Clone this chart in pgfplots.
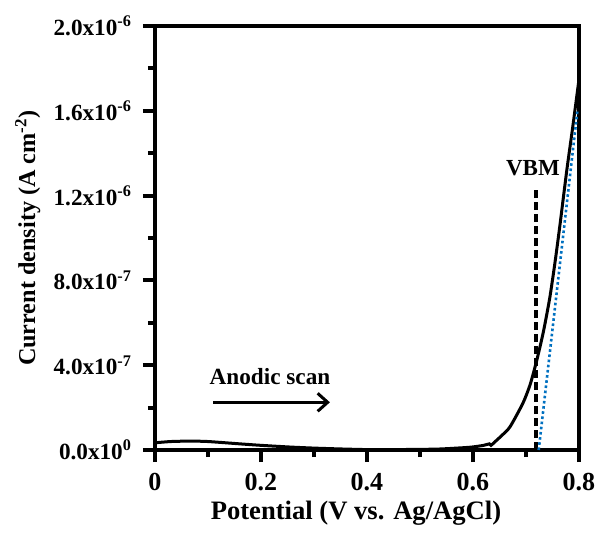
\documentclass[border=0pt]{standalone}
\usepackage{fontspec}
\setmainfont{Liberation Serif}
\usepackage{pgfplots}
\pgfplotsset{compat=1.18}
\usetikzlibrary{arrows.meta}
\definecolor{tanblue}{RGB}{0,112,192}
\begin{document}
\begin{tikzpicture}
\begin{axis}[
  name=ax,
  scale only axis, width=212pt, height=212pt,
  xmin=0, xmax=0.8, ymin=0, ymax=2e-6,
  axis line style={line width=2pt},
  xtick={0,0.2,0.4,0.6,0.8}, xticklabels={0,0.2,0.4,0.6,0.8},
  minor xtick={0.1,0.3,0.5,0.7},
  ytick={0,4e-7,8e-7,1.2e-6,1.6e-6,2e-6},
  yticklabels={0.0x10\textsuperscript{0},4.0x10\textsuperscript{-7},8.0x10\textsuperscript{-7},1.2x10\textsuperscript{-6},1.6x10\textsuperscript{-6},2.0x10\textsuperscript{-6}},
  minor ytick={2e-7,6e-7,1e-6,1.4e-6,1.8e-6},
  scaled y ticks=false, scaled x ticks=false,
  tick align=outside, xtick pos=lower, ytick pos=left,
  major tick length=6pt, minor tick length=3.5pt,
  every tick/.style={line width=2pt, black},
  xticklabel style={font=\bfseries\fontsize{13}{15}\selectfont, yshift=-2pt},
  yticklabel style={font=\bfseries\fontsize{11.6}{14}\selectfont, xshift=-2pt},
  xlabel={Potential (V vs. Ag/AgCl)},
  ylabel={Current density (A cm\textsuperscript{-2})},
  xlabel style={font=\bfseries\fontsize{13.3}{15}\selectfont, at={(axis description cs:0.474,-0.149)}, anchor=center},
  ylabel style={font=\bfseries\fontsize{12.1}{15}\selectfont, at={(axis description cs:-0.30,0.5)}, anchor=center},
  clip=false,
]
\addplot[black, line width=1.5pt, smooth, tension=0.4] coordinates {
(0,3.4e-8) (0.03,4.0e-8) (0.066,4.2e-8) (0.1,4.0e-8) (0.16,2.9e-8) (0.2,2.2e-8)
(0.255,1.4e-8) (0.3,9e-9) (0.35,5e-9) (0.4,2e-9) (0.45,2e-9) (0.5,3e-9)
(0.54,5e-9) (0.594,1.3e-8) (0.62,2.2e-8) (0.631,2.9e-8) (0.634,2.2e-8)
(0.642,4.0e-8) (0.655,7e-8) (0.67,1.1e-7) (0.694,2.2e-7) (0.708,3.1e-7)
(0.721,4.3e-7) (0.733,5.6e-7) (0.745,7.2e-7) (0.755,8.9e-7) (0.764,1.06e-6)
(0.777,1.32e-6) (0.788,1.52e-6) (0.799,1.73e-6)
};
\addplot[black, line width=2pt, dash pattern=on 4pt off 2pt] coordinates {(0.719,0) (0.719,1.24e-6)};
\addplot[tanblue, line width=1.3pt, dash pattern=on 1.3pt off 1.3pt] coordinates {(0.724,0) (0.797,1.6e-6)};
\node[font=\bfseries\fontsize{11.5}{14}\selectfont] at (axis cs:0.713,1.33e-6) {VBM};
\node[font=\bfseries\fontsize{11.6}{14}\selectfont] at (axis cs:0.217,3.45e-7) {Anodic scan};
\draw[-{Straight Barb[length=5pt,width=9pt]}, line width=1.5pt] (axis cs:0.11,2.25e-7) -- (axis cs:0.33,2.25e-7);
\end{axis}
\pgfresetboundingbox
\path ([shift={(-77.5pt,-41pt)}]ax.south west) rectangle ([shift={(10.5pt,13pt)}]ax.north east);
\end{tikzpicture}
\end{document}
